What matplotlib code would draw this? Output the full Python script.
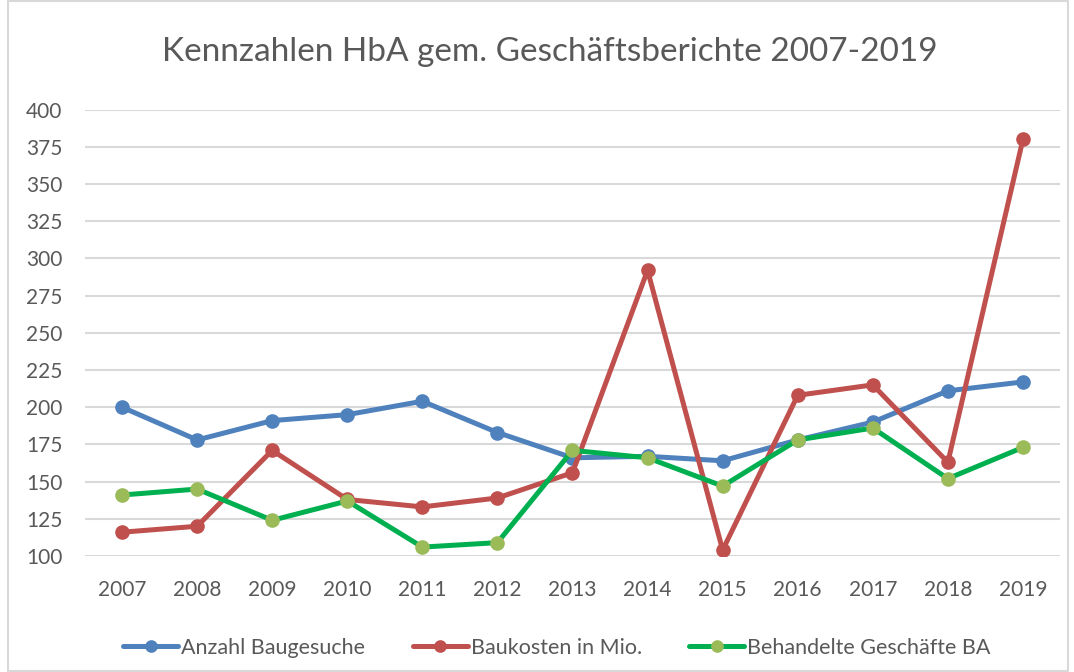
import matplotlib.pyplot as plt
from matplotlib.patches import Rectangle

# data
years = ["2007", "2008", "2009", "2010", "2011", "2012", "2013",
         "2014", "2015", "2016", "2017", "2018", "2019"]
baugesuche = [200, 178, 191, 195, 204, 183, 166, 167, 164, 178, 190, 211, 217]
baukosten = [116, 120, 171, 138, 133, 139, 156, 292, 104, 208, 215, 163, 380]
geschaefte = [141, 145, 124, 137, 106, 109, 171, 166, 147, 178, 186, 152, 173]
yticks = list(range(100, 401, 25))

plt.rcParams['font.family'] = ['Lato', 'DejaVu Sans']
textColor = '#595959'
gridColor = '#D9D9D9'

fig = plt.figure(figsize=(10.74, 6.72), dpi=100)
ax = fig.add_axes([0.0787, 0.1726, 0.9087, 0.6643])

x = list(range(len(years)))
ax.plot(x, baugesuche, color='#4F81BD', lw=3.6, marker='o', ms=9.5,
        label='Anzahl Baugesuche', solid_capstyle='round', zorder=3)
ax.plot(x, baukosten, color='#C0504D', lw=3.6, marker='o', ms=9.5,
        label='Baukosten in Mio.', solid_capstyle='round', zorder=4)
ax.plot(x, geschaefte, color='#00B050', lw=3.6, marker='o', ms=9.5,
        markerfacecolor='#9BBB59', markeredgecolor='#9BBB59',
        label='Behandelte Geschäfte BA', solid_capstyle='round', zorder=5)

ax.set_xlim(-0.5, len(years) - 0.5)
ax.set_ylim(100, 400)
ax.set_xticks(x)
ax.set_xticklabels(years)
ax.set_yticks(yticks)
ax.tick_params(axis='both', length=0, labelsize=15, labelcolor=textColor)
ax.tick_params(axis='y', pad=16)
ax.tick_params(axis='x', pad=17)
ax.grid(axis='y', color=gridColor, lw=1.5)
ax.set_axisbelow(True)
for s in ax.spines.values():
    s.set_visible(False)

fig.text(550 / 1074, 1 - 52 / 672, 'Kennzahlen HbA gem. Geschäftsberichte 2007-2019',
         ha='center', va='center', fontsize=24, color=textColor)

leg = fig.legend(loc='center', bbox_to_anchor=(557 / 1074, 1 - 648 / 672), ncol=3,
                 frameon=False, fontsize=15.5, handlelength=2.55, handletextpad=0.15,
                 columnspacing=2.2, labelcolor=textColor, markerscale=0.85)

# light chart border
fig.patches.append(Rectangle((8 / 1074, 1 / 672), 1060 / 1074, 670 / 672,
                             transform=fig.transFigure, fill=False,
                             edgecolor=gridColor, lw=1.5))

fig.savefig('out.png', dpi=100)
